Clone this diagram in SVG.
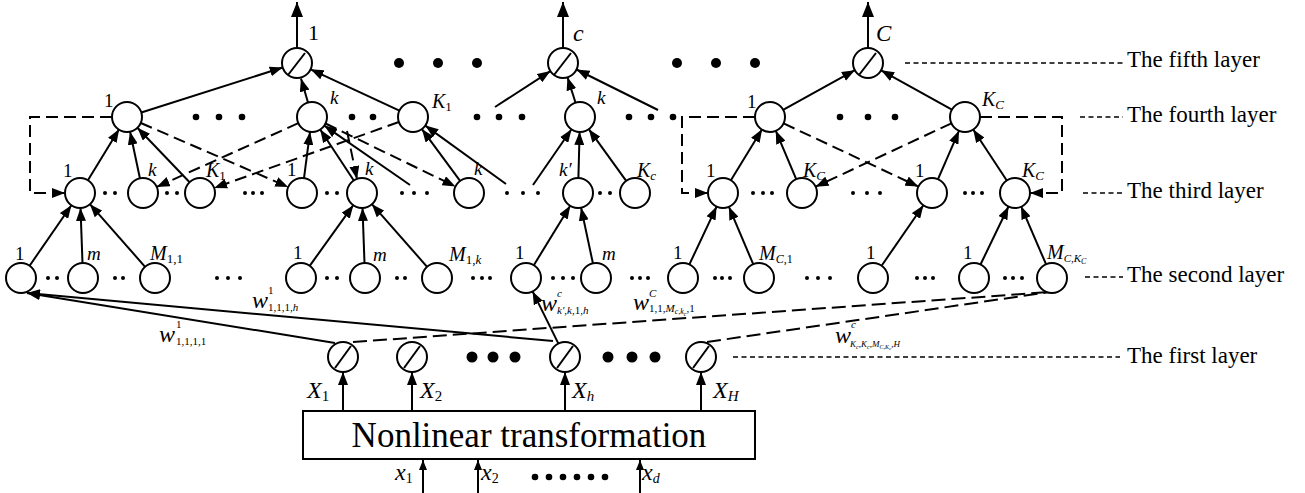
<svg xmlns="http://www.w3.org/2000/svg" width="1305" height="493" viewBox="0 0 1305 493">
<defs>
<marker id="ah" markerUnits="userSpaceOnUse" markerWidth="13" markerHeight="10" refX="13" refY="5" orient="auto"><path d="M0,0 L13,5 L0,10 z" fill="#000"/></marker>
<marker id="sm" markerUnits="userSpaceOnUse" markerWidth="10" markerHeight="8" refX="10" refY="4" orient="auto"><path d="M0,0 L10,4 L0,8 z" fill="#000"/></marker>
<marker id="big" markerUnits="userSpaceOnUse" markerWidth="15" markerHeight="12" refX="15" refY="6" orient="auto"><path d="M0,0 L15,6 L0,12 z" fill="#000"/></marker>
</defs>
<style>
.ln{stroke:#000;stroke-width:2;fill:none}
.ar{marker-end:url(#ah)}
.as{marker-end:url(#sm)}
.ab{marker-end:url(#big)}
.ds{stroke-dasharray:12 6}
.wd{stroke-dasharray:14 6}
.gd{stroke:#000;stroke-width:1.6;stroke-dasharray:5 3.5;fill:none}
.nd{fill:#fff;stroke:#000;stroke-width:2}
.sl{stroke:#000;stroke-width:2}
text{font-family:"Liberation Serif","Times New Roman",serif;fill:#000}
.it{font-style:italic}
.up{font-style:normal}
.lab{font-size:19px}
.big{font-size:20px}
.lay{font-size:23px}
</style>
<rect width="1305" height="493" fill="#fff"/>

<g id="connectors">
  <!-- second layer to third layer -->
  <line class="ln ar" x1="29.6" y1="265.7" x2="71.4" y2="205.3"/>
  <line class="ln ar" x1="82.5" y1="263" x2="80.5" y2="208"/>
  <line class="ln ar" x1="145.1" y1="266.8" x2="89.9" y2="204.2"/>
  <line class="ln ar" x1="309.7" y1="265.8" x2="353.3" y2="205.2"/>
  <line class="ln ar" x1="364.5" y1="263" x2="362.5" y2="208"/>
  <line class="ln ar" x1="427.1" y1="266.8" x2="371.9" y2="204.2"/>
  <line class="ln ar" x1="533.8" y1="265.2" x2="570.2" y2="205.8"/>
  <line class="ln ar" x1="592.9" y1="263.3" x2="581.1" y2="207.7"/>
  <line class="ln ar" x1="689.4" y1="264.4" x2="716.6" y2="206.6"/>
  <line class="ln ar" x1="753.2" y1="264.2" x2="728.9" y2="206.8"/>
  <line class="ln ar" x1="881.6" y1="265.7" x2="923.4" y2="205.3"/>
  <line class="ln ar" x1="980.5" y1="264.5" x2="1008.5" y2="206.5"/>
  <line class="ln ar" x1="1046" y1="264.2" x2="1021" y2="206.2"/>

  <!-- third layer to fourth layer -->
  <line class="ln ar" x1="87.9" y1="180.2" x2="119.1" y2="129.2"/>
  <line class="ln ar" x1="139.9" y1="178.3" x2="130.1" y2="131.7"/>
  <line class="ln ar" x1="189.6" y1="182.2" x2="137.4" y2="127.8"/>
  <line class="ln ar" x1="304" y1="178.1" x2="310" y2="131.9"/>
  <line class="ln ar" x1="353.8" y1="180.5" x2="320.2" y2="129.5"/>
  <line class="ln ar" x1="410" y1="185" x2="324.3" y2="125.6"/>
  <line class="ln ar" x1="460.1" y1="180.9" x2="421.9" y2="129.1"/>
  <line class="ln ar" x1="506" y1="184" x2="425.3" y2="125.6"/>
  <line class="ln ar" x1="533" y1="185" x2="571.5" y2="129.3"/>
  <line class="ln ar" x1="578.4" y1="178" x2="579.6" y2="132"/>
  <line class="ln ar" x1="626.2" y1="180.8" x2="588.8" y2="129.2"/>
  <line class="ln ar" x1="730.9" y1="180.2" x2="762.1" y2="129.2"/>
  <line class="ln ar" x1="796.2" y1="179.2" x2="775.8" y2="130.8"/>
  <line class="ln ar" x1="938" y1="179.2" x2="959" y2="130.8"/>
  <line class="ln ar" x1="1006.8" y1="180.5" x2="973.2" y2="129.5"/>

  <!-- fourth layer back to third layer (dashed) -->
  <line class="ln ar ds" x1="140.8" y1="123" x2="288.2" y2="187"/>
  <line class="ln ar ds" x1="298.3" y1="123.2" x2="156.7" y2="186.9"/>
  <line class="ln ar ds" x1="398.9" y1="122" x2="214.1" y2="188"/>
  <line class="ln ar ds" x1="325.5" y1="123.5" x2="455.5" y2="186.5"/>
  <line class="ln ar ds" x1="347" y1="131" x2="357" y2="179"/>
  <line class="ln ar ds" x1="783.6" y1="123.4" x2="918.4" y2="186.6"/>
  <line class="ln ar ds" x1="951.4" y1="123.3" x2="815.6" y2="186.7"/>
  <path class="ln ar ds" d="M112,117 H30 V193 H65"/>
  <path class="ln ar ds" d="M755,117 H682 V193 H708"/>
  <path class="ln ar ds" d="M980,117 H1062 V193 H1030"/>

  <!-- fourth layer to fifth layer -->
  <line class="ln ar" x1="141.3" y1="112.5" x2="282.7" y2="67.5"/>
  <line class="ln ar" x1="308" y1="102.5" x2="301" y2="78.5"/>
  <line class="ln ar" x1="399.4" y1="110.7" x2="310.6" y2="69.3"/>
  <line class="ln ar" x1="495" y1="107" x2="550.4" y2="71.1"/>
  <line class="ln ar" x1="575.5" y1="102.7" x2="567.5" y2="77.3"/>
  <line class="ln ar" x1="658" y1="110" x2="576.5" y2="69.5"/>
  <line class="ln ar" x1="783.1" y1="109.8" x2="854.9" y2="70.2"/>
  <line class="ln ar" x1="951.9" y1="109.7" x2="881.1" y2="70.3"/>

  <!-- outputs -->
  <line class="ln ab" x1="297" y1="48" x2="297" y2="2"/>
  <line class="ln ab" x1="563" y1="48" x2="563" y2="2"/>
  <line class="ln ab" x1="868" y1="48" x2="868" y2="2"/>

  <!-- first layer to second layer -->
  <line class="ln ar" x1="335" y1="343" x2="27" y2="293"/>
  <line class="ln ar" x1="553" y1="341" x2="27" y2="293"/>
  <line class="ln ar" x1="558.4" y1="343.6" x2="532.6" y2="291.4"/>
  <line class="ln wd" x1="353" y1="342" x2="1050" y2="292"/>
  <line class="ln wd" x1="707" y1="342" x2="1050" y2="292"/>

  <!-- transformation to first layer -->
  <line class="ln ar" x1="343" y1="411" x2="343" y2="372"/>
  <line class="ln ar" x1="412" y1="411" x2="412" y2="372"/>
  <line class="ln ar" x1="565" y1="411" x2="565" y2="372"/>
  <line class="ln ar" x1="701" y1="411" x2="701" y2="372"/>

  <!-- raw inputs -->
  <line class="ln as" x1="423" y1="493" x2="423" y2="460"/>
  <line class="ln as" x1="478" y1="493" x2="478" y2="460"/>
  <line class="ln as" x1="640" y1="493" x2="640" y2="460"/>

  <!-- layer name leaders -->
  <line class="gd" x1="905" y1="63" x2="1123" y2="63"/>
  <line class="gd" x1="1080" y1="117" x2="1123" y2="117"/>
  <line class="gd" x1="1083" y1="193" x2="1123" y2="193"/>
  <line class="gd" x1="1085" y1="277" x2="1123" y2="277"/>
  <line class="gd" x1="733" y1="357" x2="1120" y2="357"/>
</g>

<g id="dots">
  <g fill="#000">
    <circle cx="399" cy="63" r="5"/><circle cx="438" cy="63" r="5"/><circle cx="477" cy="63" r="5"/>
    <circle cx="677" cy="63" r="5"/><circle cx="716" cy="63" r="5"/><circle cx="755" cy="63" r="5"/>

    <circle cx="196" cy="117" r="3.3"/><circle cx="219" cy="117" r="3.3"/><circle cx="242" cy="117" r="3.3"/>
    <circle cx="352" cy="117" r="3.3"/><circle cx="373" cy="117" r="3.3"/>
    <circle cx="477" cy="117" r="3.3"/><circle cx="499" cy="117" r="3.3"/><circle cx="522" cy="117" r="3.3"/>
    <circle cx="629" cy="117" r="3.3"/><circle cx="651" cy="117" r="3.3"/><circle cx="673" cy="117" r="3.3"/>
    <circle cx="840" cy="117" r="3.3"/><circle cx="868" cy="117" r="3.3"/><circle cx="895" cy="117" r="3.3"/>

    <circle cx="105" cy="193" r="2"/><circle cx="115" cy="193" r="2"/>
    <circle cx="167" cy="193" r="2"/><circle cx="177" cy="193" r="2"/>
    <circle cx="245" cy="193" r="2"/><circle cx="253" cy="193" r="2"/><circle cx="262" cy="193" r="2"/>
    <circle cx="327" cy="193" r="2"/><circle cx="337" cy="193" r="2"/>
    <circle cx="402" cy="193" r="2"/><circle cx="414" cy="193" r="2"/><circle cx="427" cy="193" r="2"/>
    <circle cx="507" cy="193" r="2"/><circle cx="523" cy="193" r="2"/><circle cx="538" cy="193" r="2"/>
    <circle cx="600" cy="193" r="2"/><circle cx="610" cy="193" r="2"/>
    <circle cx="753" cy="193" r="2"/><circle cx="763" cy="193" r="2"/><circle cx="772" cy="193" r="2"/>
    <circle cx="853" cy="193" r="2"/><circle cx="867" cy="193" r="2"/><circle cx="880" cy="193" r="2"/>
    <circle cx="965" cy="193" r="2"/><circle cx="973" cy="193" r="2"/><circle cx="982" cy="193" r="2"/>

    <circle cx="48" cy="278" r="2"/><circle cx="57" cy="278" r="2"/>
    <circle cx="115" cy="278" r="2"/><circle cx="123" cy="278" r="2"/>
    <circle cx="217" cy="278" r="2"/><circle cx="228" cy="278" r="2"/><circle cx="240" cy="278" r="2"/>
    <circle cx="327" cy="278" r="2"/><circle cx="337" cy="278" r="2"/>
    <circle cx="397" cy="278" r="2"/><circle cx="405" cy="278" r="2"/>
    <circle cx="473" cy="278" r="2"/><circle cx="482" cy="278" r="2"/><circle cx="490" cy="278" r="2"/>
    <circle cx="553" cy="278" r="2"/><circle cx="563" cy="278" r="2"/><circle cx="573" cy="278" r="2"/>
    <circle cx="632" cy="278" r="2"/><circle cx="640" cy="278" r="2"/><circle cx="648" cy="278" r="2"/>
    <circle cx="715" cy="278" r="2"/><circle cx="722" cy="278" r="2"/><circle cx="730" cy="278" r="2"/>
    <circle cx="807" cy="278" r="2"/><circle cx="818" cy="278" r="2"/><circle cx="830" cy="278" r="2"/>
    <circle cx="917" cy="278" r="2"/><circle cx="925" cy="278" r="2"/><circle cx="933" cy="278" r="2"/>
    <circle cx="1005" cy="278" r="2"/><circle cx="1013" cy="278" r="2"/><circle cx="1022" cy="278" r="2"/>

    <circle cx="472" cy="357" r="5.5"/><circle cx="493" cy="357" r="5.5"/><circle cx="515" cy="357" r="5.5"/>
    <circle cx="608" cy="357" r="5.5"/><circle cx="632" cy="357" r="5.5"/><circle cx="655" cy="357" r="5.5"/>

    <circle cx="535" cy="477" r="3.3"/><circle cx="549" cy="477" r="3.3"/><circle cx="563" cy="477" r="3.3"/>
    <circle cx="577" cy="477" r="3.3"/><circle cx="591" cy="477" r="3.3"/><circle cx="605" cy="477" r="3.3"/>
  </g>
</g>

<!-- fifth layer -->
<g id="out-1"><circle class="nd" cx="297" cy="63" r="15"/><line class="sl" x1="288" y1="75" x2="305" y2="53"/><text x="308" y="40" font-size="22">1</text></g>
<g id="out-c"><circle class="nd" cx="563" cy="63" r="15"/><line class="sl" x1="554" y1="75" x2="571" y2="53"/><text class="it" x="573" y="41" font-size="24">c</text></g>
<g id="out-C"><circle class="nd" cx="868" cy="63" r="15"/><line class="sl" x1="859" y1="75" x2="876" y2="53"/><text class="it" x="876" y="41" font-size="23">C</text></g>

<!-- fourth layer -->
<g id="l4-1-1"><circle class="nd" cx="127" cy="117" r="15"/><text class="lab" x="104" y="107">1</text></g>
<g id="l4-1-k"><circle class="nd" cx="312" cy="117" r="15"/><text class="lab it" x="330" y="104">k</text></g>
<g id="l4-1-K"><circle class="nd" cx="413" cy="117" r="15"/><text class="big it" x="432" y="108">K<tspan class="up" font-size="13" dy="3">1</tspan></text></g>
<g id="l4-c-k"><circle class="nd" cx="580" cy="117" r="15"/><text class="lab it" x="597" y="104">k</text></g>
<g id="l4-C-1"><circle class="nd" cx="770" cy="117" r="15"/><text class="lab" x="747" y="108">1</text></g>
<g id="l4-C-K"><circle class="nd" cx="965" cy="117" r="15"/><text class="big it" x="982" y="106">K<tspan font-size="13" dy="3">C</tspan></text></g>

<!-- third layer -->
<g id="l3-a"><circle class="nd" cx="80" cy="193" r="15"/><text class="lab" x="63" y="177">1</text></g>
<g id="l3-b"><circle class="nd" cx="143" cy="193" r="15"/><text class="lab it" x="148" y="176">k</text></g>
<g id="l3-c"><circle class="nd" cx="200" cy="193" r="15"/><text class="big it" x="206" y="177">K<tspan class="up" font-size="13" dy="3">1</tspan></text></g>
<g id="l3-d"><circle class="nd" cx="302" cy="193" r="15"/><text class="lab" x="287" y="176">1</text></g>
<g id="l3-e"><circle class="nd" cx="362" cy="193" r="15"/><text class="lab it" x="365" y="175">k</text></g>
<g id="l3-f"><circle class="nd" cx="469" cy="193" r="15"/><text class="lab it" x="474" y="175">k</text></g>
<g id="l3-g"><circle class="nd" cx="578" cy="193" r="15"/><text class="lab it" x="559" y="176">k′</text></g>
<g id="l3-h"><circle class="nd" cx="635" cy="193" r="15"/><text class="big it" x="637" y="177">K<tspan font-size="13" dy="3">c</tspan></text></g>
<g id="l3-i"><circle class="nd" cx="723" cy="193" r="15"/><text class="lab" x="706" y="177">1</text></g>
<g id="l3-j"><circle class="nd" cx="802" cy="193" r="15"/><text class="big it" x="803" y="177">K<tspan font-size="13" dy="3">C</tspan></text></g>
<g id="l3-k"><circle class="nd" cx="932" cy="193" r="15"/><text class="lab" x="915" y="177">1</text></g>
<g id="l3-l"><circle class="nd" cx="1015" cy="193" r="15"/><text class="big it" x="1022" y="177">K<tspan font-size="13" dy="3">C</tspan></text></g>

<!-- second layer -->
<g id="l2-a"><circle class="nd" cx="21" cy="278" r="15"/><text class="lab" x="15" y="260">1</text></g>
<g id="l2-b"><circle class="nd" cx="83" cy="278" r="15"/><text class="lab it" x="87" y="260">m</text></g>
<g id="l2-c"><circle class="nd" cx="155" cy="278" r="15"/><text class="big it" x="150" y="260">M<tspan class="up" font-size="13" dy="3">1,1</tspan></text></g>
<g id="l2-d"><circle class="nd" cx="301" cy="278" r="15"/><text class="lab" x="293" y="259">1</text></g>
<g id="l2-e"><circle class="nd" cx="365" cy="278" r="15"/><text class="lab it" x="373" y="261">m</text></g>
<g id="l2-f"><circle class="nd" cx="437" cy="278" r="15"/><text class="big it" x="449" y="261">M<tspan class="up" font-size="13" dy="3">1,</tspan><tspan font-size="13">k</tspan></text></g>
<g id="l2-g"><circle class="nd" cx="526" cy="278" r="15"/><text class="lab" x="515" y="259">1</text></g>
<g id="l2-h"><circle class="nd" cx="596" cy="278" r="15"/><text class="lab it" x="602" y="260">m</text></g>
<g id="l2-i"><circle class="nd" cx="683" cy="278" r="15"/><text class="lab" x="673" y="259">1</text></g>
<g id="l2-j"><circle class="nd" cx="759" cy="278" r="15"/><text class="big it" x="759" y="260">M<tspan font-size="12" dy="3">C</tspan><tspan class="up" font-size="12">,1</tspan></text></g>
<g id="l2-k"><circle class="nd" cx="873" cy="278" r="15"/><text class="lab" x="866" y="259">1</text></g>
<g id="l2-l"><circle class="nd" cx="974" cy="278" r="15"/><text class="lab" x="963" y="259">1</text></g>
<g id="l2-m"><circle class="nd" cx="1052" cy="278" r="15"/><text class="big it" x="1047" y="259">M<tspan font-size="11" dy="3">C</tspan><tspan class="up" font-size="11">,</tspan><tspan font-size="11">K</tspan><tspan font-size="8" dy="2">C</tspan></text></g>

<!-- first layer -->
<g id="l1-1"><circle class="nd" cx="343" cy="357" r="15"/><line class="sl" x1="335" y1="368" x2="351" y2="346"/><text class="it" x="307" y="398" font-size="24">X<tspan class="up" font-size="15" dy="3">1</tspan></text></g>
<g id="l1-2"><circle class="nd" cx="412" cy="357" r="15"/><line class="sl" x1="404" y1="368" x2="420" y2="346"/><text class="it" x="420" y="398" font-size="24">X<tspan class="up" font-size="15" dy="3">2</tspan></text></g>
<g id="l1-h"><circle class="nd" cx="565" cy="357" r="15"/><line class="sl" x1="557" y1="368" x2="573" y2="346"/><text class="it" x="572" y="398" font-size="24">X<tspan font-size="15" dy="3">h</tspan></text></g>
<g id="l1-H"><circle class="nd" cx="701" cy="357" r="15"/><line class="sl" x1="693" y1="368" x2="709" y2="346"/><text class="it" x="713" y="398" font-size="24">X<tspan font-size="15" dy="3">H</tspan></text></g>

<!-- nonlinear transformation block and raw inputs -->
<g id="transform">
  <rect x="303" y="411" width="452" height="48" fill="#fff" stroke="#000" stroke-width="2"/>
  <text x="529" y="447" font-size="35" text-anchor="middle">Nonlinear transformation</text>
</g>
<g id="inputs">
  <text class="it" x="395" y="480" font-size="24">x<tspan class="up" font-size="14" dy="3">1</tspan></text>
  <text class="it" x="481" y="480" font-size="24">x<tspan class="up" font-size="14" dy="3">2</tspan></text>
  <text class="it" x="642" y="480" font-size="24">x<tspan font-size="14" dy="3">d</tspan></text>
</g>

<!-- connection weights -->
<g id="weights">
  <text class="it" x="159" y="342" font-size="24">w</text>
  <text x="176" y="328" font-size="11">1</text>
  <text x="176" y="345" font-size="11">1,1,1,1</text>

  <text class="it" x="252" y="308" font-size="24">w</text>
  <text x="268" y="294" font-size="11">1</text>
  <text x="268" y="311" font-size="11">1,1,1,<tspan class="it">h</tspan></text>

  <text class="it" x="541" y="311" font-size="24">w</text>
  <text class="it" x="557" y="297" font-size="11">c</text>
  <text x="557" y="314" font-size="11"><tspan class="it">k′</tspan>,<tspan class="it">k</tspan>,1,<tspan class="it">h</tspan></text>

  <text class="it" x="633" y="310" font-size="24">w</text>
  <text class="it" x="649" y="297" font-size="11">C</text>
  <text x="649" y="312" font-size="11">1,1,<tspan class="it">M</tspan><tspan class="it" font-size="8" dy="2">c</tspan><tspan font-size="8">,</tspan><tspan class="it" font-size="8">k</tspan><tspan class="it" font-size="6" dy="2">c</tspan><tspan font-size="11" dy="-4">,1</tspan></text>

  <text class="it" x="835" y="343" font-size="24">w</text>
  <text class="it" x="851" y="328" font-size="11">c</text>
  <text x="850" y="347" font-size="9"><tspan class="it">K</tspan><tspan class="it" font-size="6" dy="2">c</tspan><tspan dy="-2">,</tspan><tspan class="it">K</tspan><tspan class="it" font-size="6" dy="2">c</tspan><tspan dy="-2">,</tspan><tspan class="it">M</tspan><tspan class="it" font-size="6" dy="2">C</tspan><tspan font-size="6">,</tspan><tspan class="it" font-size="6">K</tspan><tspan class="it" font-size="5" dy="1">c</tspan><tspan dy="-3">,</tspan><tspan class="it">H</tspan></text>
</g>

<!-- layer names -->
<g id="layer-names">
  <text class="lay" x="1127" y="67">The fifth layer</text>
  <text class="lay" x="1127" y="122">The fourth layer</text>
  <text class="lay" x="1127" y="198">The third layer</text>
  <text class="lay" x="1127" y="282">The second layer</text>
  <text class="lay" x="1127" y="363">The first layer</text>
</g>
</svg>
